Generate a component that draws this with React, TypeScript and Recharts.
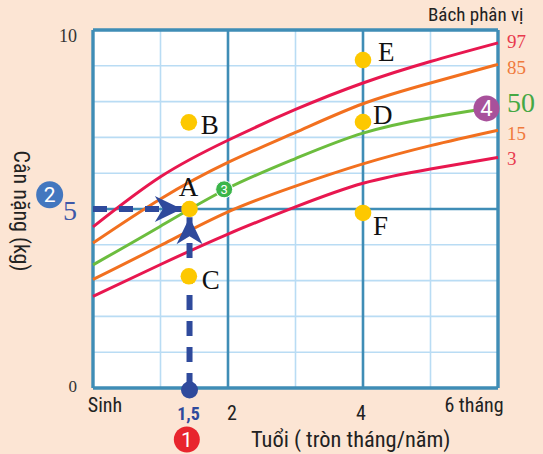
import React from 'react';
import {
  ComposedChart,
  Line,
  Scatter,
  XAxis,
  YAxis,
  ReferenceLine,
  ReferenceDot,
  CartesianGrid,
  Customized,
} from 'recharts';

// ---------- data ----------
const months = [0, 1, 2, 3, 4, 5, 6];
const p97 = [4.5, 5.9, 6.92, 7.78, 8.52, 9.12, 9.64];
const p85 = [4.05, 5.28, 6.3, 7.14, 7.94, 8.52, 9.04];
const p15 = [3.03, 3.98, 4.92, 5.64, 6.26, 6.77, 7.2];
const p3 = [2.56, 3.45, 4.3, 5.06, 5.72, 6.12, 6.44];
const p50Months = [0, 1, 2, 3, 4, 5, 5.8];
const p50 = [3.44, 4.52, 5.58, 6.41, 7.12, 7.55, 7.8];

const pointNames = ['A', 'B', 'C', 'D', 'E', 'F'];
const pointMonths = [1.43, 1.42, 1.42, 4.0, 4.0, 4.0];
const pointWeights = [5.0, 7.42, 3.12, 7.43, 9.16, 4.89];

const xTickValues = [0, 1.43, 2, 4, 6];
const xTickLabels = ['Sinh', '1,5', '2', '4', '6 tháng'];
const yTickValues = [0, 5, 10];
const yTickLabels = ['0', '5', '10'];

const thinX = [1, 3, 5];
const thickX = [2, 4];
const thinY = [1, 2, 3, 4, 6, 7, 8, 9];
const thickY = [5];

const hArrow = [
  { x: 0, y: 5 },
  { x: 1.316, y: 5 },
];
const vArrow = [
  { x: 1.43, y: 0 },
  { x: 1.43, y: 4.77 },
];

const badgeLabels = ['1', '2', '3', '4'];
const badgeMonths = [1.39, -0.642, 1.943, 5.829];
const badgeWeights = [-1.44, 5.4, 5.55, 7.81];

const percentileLabels = ['97', '85', '50', '15', '3'];

// ---------- build ----------
const toRows = (xs: number[], ys: number[]) => xs.map((x, i) => ({ x, y: ys[i] }));
const rows97 = toRows(months, p97);
const rows85 = toRows(months, p85);
const rows15 = toRows(months, p15);
const rows3 = toRows(months, p3);
const rows50 = toRows(p50Months, p50);
const points = pointNames.map((name, i) => ({ name, x: pointMonths[i], y: pointWeights[i] }));

// ---------- styles ----------
const SANS = "'Liberation Sans Narrow', 'Arial Narrow', 'Roboto Condensed', Roboto, 'Liberation Sans', sans-serif";
const SERIF = "'Liberation Serif', 'Times New Roman', serif";
const BG = '#fce5d4';
const RED = '#e8174f';
const ORANGE = '#f2701f';
const GREEN = '#6cbd3e';
const NAVY = '#2f4a9c';
const BORDER = '#3f8db6';
const THIN = '#b9dcf4';
const YELLOW = '#fdc800';

const xTickStyle: Record<string, any> = {
  'Sinh': { dx: 12, base: 412, fill: '#222', size: 20, weight: 400, font: SANS },
  '1,5': { dx: -1, base: 420, fill: NAVY, size: 18, weight: 700, font: SANS },
  '2': { dx: 4, base: 420, fill: '#222', size: 20, weight: 400, font: SANS },
  '4': { dx: -2, base: 420, fill: '#222', size: 20, weight: 400, font: SANS },
  '6 tháng': { dx: -24, base: 412, fill: '#222', size: 20, weight: 400, font: SANS },
};
const yTickStyle: Record<string, any> = {
  '0': { base: 392, fill: '#333', size: 17 },
  '5': { base: 220, fill: '#3d58a8', size: 28 },
  '10': { base: 42, fill: '#333', size: 18 },
};
const pctStyle: Record<string, any> = {
  '97': { y: 48, fill: '#e83a4e', size: 19 },
  '85': { y: 74, fill: '#f07a3c', size: 19 },
  '50': { y: 112, fill: '#45a844', size: 28 },
  '15': { y: 140, fill: '#f07a3c', size: 19 },
  '3': { y: 165, fill: '#e83a4e', size: 19 },
};
const pointLabelStyle: Record<string, any> = {
  A: { dx: -1, dy: -13, anchor: 'middle' },
  B: { dx: 12, dy: 12, anchor: 'start' },
  C: { dx: 13, dy: 13, anchor: 'start' },
  D: { dx: 10, dy: 2, anchor: 'start' },
  E: { dx: 15, dy: 1, anchor: 'start' },
  F: { dx: 10, dy: 22, anchor: 'start' },
};
const badgeStyle: Record<string, any> = {
  '1': { r: 13, fill: '#e8252d', size: 21 },
  '2': { r: 13.5, fill: '#4377bf', size: 21 },
  '3': { r: 8.5, fill: '#3bb54a', size: 13 },
  '4': { r: 13, fill: '#a8519b', size: 22 },
};

const XTick = (props: any) => {
  const { x, payload } = props;
  const i = xTickValues.indexOf(payload.value);
  const label = xTickLabels[i];
  const s = xTickStyle[label];
  return (
    <text x={x + s.dx} y={s.base} textAnchor="middle" fill={s.fill} fontSize={s.size} fontWeight={s.weight} fontFamily={s.font}>
      {label}
    </text>
  );
};

const YTick = (props: any) => {
  const { payload } = props;
  const i = yTickValues.indexOf(payload.value);
  const label = yTickLabels[i];
  const s = yTickStyle[label];
  return (
    <text x={77} y={s.base} textAnchor="end" fill={s.fill} fontSize={s.size} fontFamily={SERIF}>
      {label}
    </text>
  );
};

const PointShape = (props: any) => {
  const { cx, cy, payload } = props;
  const s = pointLabelStyle[payload.name];
  return (
    <g>
      <circle cx={cx} cy={cy} r={8.3} fill={YELLOW} />
      <text x={cx + s.dx} y={cy + s.dy} textAnchor={s.anchor} fontSize={27} fontFamily={SERIF} fill="#111">
        {payload.name}
      </text>
    </g>
  );
};

const arrowPath = (cx: number, cy: number, dir: 'right' | 'up') => {
  const pts = [
    [0, 0],
    [-27, -13],
    [-19, 0],
    [-27, 13],
  ];
  const mapped = pts.map(([a, b]) => (dir === 'right' ? [cx + a, cy + b] : [cx + b, cy - a]));
  return mapped.map((p, i) => `${i === 0 ? 'M' : 'L'}${p[0]},${p[1]}`).join(' ') + ' Z';
};

const HArrowDot = (props: any) => {
  const { cx, cy, index } = props;
  if (index !== hArrow.length - 1) return <g key={`h${index}`} />;
  return <path key={`h${index}`} d={arrowPath(cx, cy, 'right')} fill={NAVY} stroke="none" />;
};

const VArrowDot = (props: any) => {
  const { cx, cy, index } = props;
  if (index === 0) return <circle key={`v${index}`} cx={cx} cy={cy + 2} r={8.5} fill={NAVY} stroke="none" />;
  return <path key={`v${index}`} d={arrowPath(cx, cy, 'up')} fill={NAVY} stroke="none" />;
};

const BadgeShape = (label: string) => (props: any) => {
  const { cx, cy } = props;
  const s = badgeStyle[label];
  return (
    <g>
      <circle cx={cx} cy={cy} r={s.r} fill={s.fill} stroke="#fff" strokeWidth={label === '3' ? 1 : 0} />
      <text x={cx} y={cy + s.size * 0.36} textAnchor="middle" fill="#fff" fontSize={s.size} fontFamily="Roboto, sans-serif">
        {label}
      </text>
    </g>
  );
};

const Overlay = () => (
  <g>
    <text x={428} y={21} fontSize={19} fontFamily={SANS} fill="#222">
      Bách phân vị
    </text>
    {percentileLabels.map((p) => {
      const s = pctStyle[p];
      return (
        <text key={p} x={507} y={s.y} fontSize={s.size} fontFamily={SERIF} fill={s.fill}>
          {p}
        </text>
      );
    })}
    <text x={251} y={447} fontSize={22.4} fontFamily={SANS} fill="#222">
      Tuổi ( tròn tháng/năm)
    </text>
    <text transform="translate(14, 211) rotate(90)" textAnchor="middle" fontSize={22} fontFamily={SANS} fill="#222">
      Cân nặng (kg)
    </text>
  </g>
);

export default function App() {
  return (
    <div style={{ position: 'absolute', left: 0, top: 0, width: 543, height: 454, background: BG, overflow: 'hidden' }}>
      <ComposedChart width={543} height={454} margin={{ top: 30, right: 45, bottom: 36, left: 0 }}>
        <CartesianGrid fill="#ffffff" horizontal={false} vertical={false} />
        <XAxis
          type="number"
          dataKey="x"
          domain={[0, 6]}
          ticks={xTickValues}
          interval={0}
          tick={<XTick />}
          axisLine={false}
          tickLine={false}
          height={30}
        />
        <YAxis
          type="number"
          dataKey="y"
          domain={[0, 10]}
          ticks={yTickValues}
          interval={0}
          tick={<YTick />}
          axisLine={false}
          tickLine={false}
          width={93}
        />
        {thinX.map((v) => (
          <ReferenceLine key={`tx${v}`} x={v} stroke={THIN} strokeWidth={1.6} />
        ))}
        {thinY.map((v) => (
          <ReferenceLine key={`ty${v}`} y={v} stroke={THIN} strokeWidth={1.6} />
        ))}
        {thickX.map((v) => (
          <ReferenceLine key={`kx${v}`} x={v} stroke={BORDER} strokeWidth={2.6} />
        ))}
        {thickY.map((v) => (
          <ReferenceLine key={`ky${v}`} y={v} stroke={BORDER} strokeWidth={2.6} />
        ))}
        <ReferenceLine x={0} stroke={BORDER} strokeWidth={3.4} />
        <ReferenceLine x={6} stroke={BORDER} strokeWidth={3.4} />
        <ReferenceLine y={0} stroke={BORDER} strokeWidth={3.4} />
        <ReferenceLine y={10} stroke={BORDER} strokeWidth={3.4} />

        <Line data={rows97} dataKey="y" type="natural" stroke={RED} strokeWidth={3} dot={false} isAnimationActive={false} />
        <Line data={rows85} dataKey="y" type="natural" stroke={ORANGE} strokeWidth={3} dot={false} isAnimationActive={false} />
        <Line data={rows50} dataKey="y" type="natural" stroke={GREEN} strokeWidth={3} dot={false} isAnimationActive={false} />
        <Line data={rows15} dataKey="y" type="natural" stroke={ORANGE} strokeWidth={3} dot={false} isAnimationActive={false} />
        <Line data={rows3} dataKey="y" type="natural" stroke={RED} strokeWidth={3} dot={false} isAnimationActive={false} />

        <Line data={hArrow} dataKey="y" type="linear" stroke={NAVY} strokeWidth={6} strokeDasharray="14 12" dot={<HArrowDot />} isAnimationActive={false} />
        <Line data={vArrow} dataKey="y" type="linear" stroke={NAVY} strokeWidth={6} strokeDasharray="15 11" dot={<VArrowDot />} isAnimationActive={false} />

        <Scatter data={points} dataKey="y" shape={<PointShape />} isAnimationActive={false} />

        {badgeLabels.map((b, i) => (
          <ReferenceDot key={`b${b}`} x={badgeMonths[i]} y={badgeWeights[i]} r={1} ifOverflow="visible" shape={BadgeShape(b)} />
        ))}
        <Customized component={Overlay} />
      </ComposedChart>
    </div>
  );
}
